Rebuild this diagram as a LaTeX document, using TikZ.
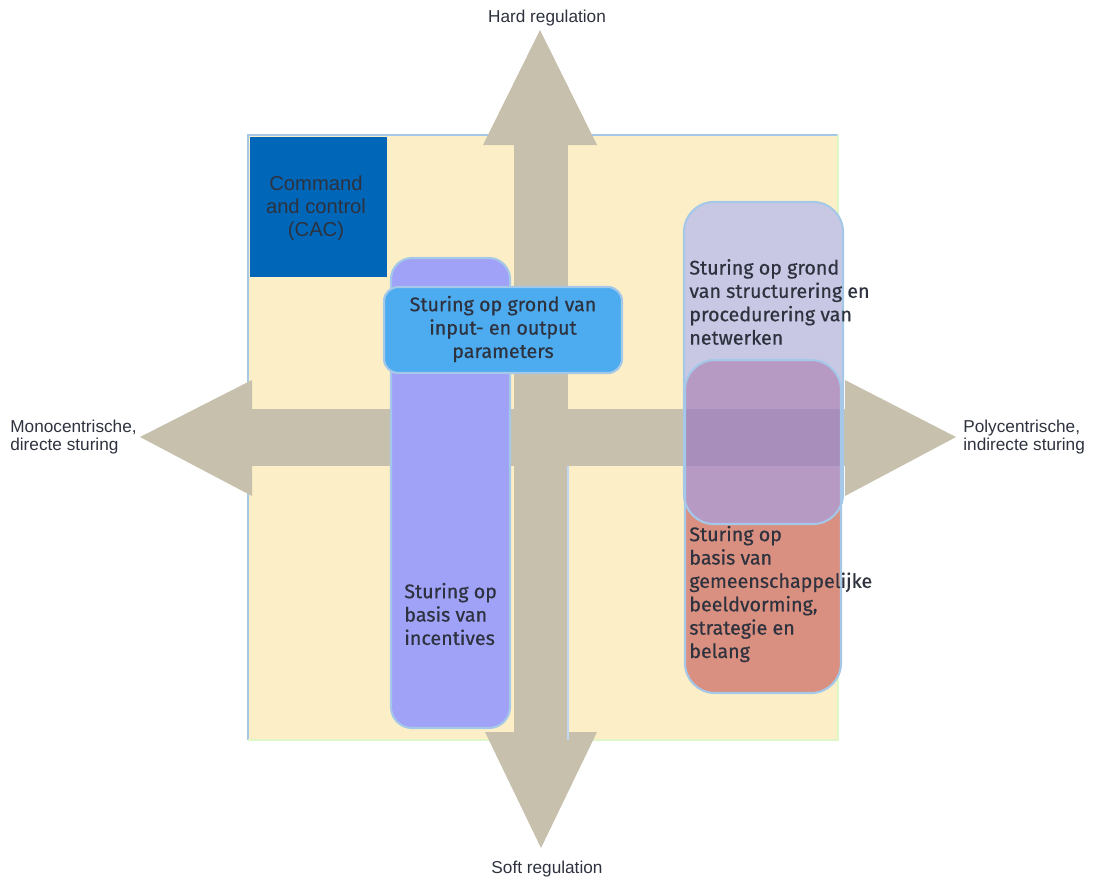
\documentclass[tikz,border=0pt]{standalone}
\usepackage{fontspec}
\setmainfont{Fira Sans}
\newfontfamily\boxfont{Fira Sans}[FakeBold=0.5]
\newfontfamily\axisfont{Liberation Sans}
\usetikzlibrary{calc,positioning}
\definecolor{quadYellow}{RGB}{252,239,199}
\definecolor{axisGray}{RGB}{199,192,173}
\definecolor{cacBlue}{RGB}{0,102,184}
\definecolor{incBlue}{RGB}{160,162,248}
\definecolor{ioBlue}{RGB}{77,172,240}
\definecolor{netLav}{RGB}{200,200,228}
\definecolor{belSalmon}{RGB}{218,144,128}
\definecolor{mixPurple}{RGB}{182,154,196}
\definecolor{mixBand}{RGB}{168,142,186}
\definecolor{edgeBlue}{RGB}{165,200,232}
\definecolor{txtDark}{RGB}{45,50,62}
\tikzset{
  axislabel/.style={font=\axisfont\fontsize{9.8}{10}\selectfont, text=txtDark, align=left, inner sep=0pt},
  boxtext/.style={font=\boxfont\fontsize{11.2}{13.3}\selectfont, text=txtDark, inner sep=0pt},
  boxedge/.style={draw=edgeBlue, line width=1.2pt}
}
\begin{document}
\begin{tikzpicture}[x=0.02cm, y=-0.02cm]
\useasboundingbox (0,0) rectangle (1094,883);

% quadrant field
\fill[quadYellow] (248,135) rectangle (838,740);
\draw[edgeBlue, line width=0.8pt] (248,740)--(248,135)--(838,135);
\draw[quadYellow!80!green!60, line width=0.8pt] (248,740)--(838,740)--(838,135);

% horizontal axis
\fill[axisGray] (250,409) rectangle (846,466);
\fill[axisGray] (252,380)--(140,437)--(252,496)--cycle;
\fill[axisGray] (845,380)--(956,437)--(845,496)--cycle;

% vertical axis
\fill[axisGray] (514,145) rectangle (568,733);
\fill[axisGray] (483,145)--(540,30)--(597,145)--cycle;
\fill[axisGray] (485,732)--(541,848)--(597,732)--cycle;
\draw[edgeBlue!70, line width=0.6pt] (568,466)--(568,740);

\node[axislabel, anchor=south] (hard) at (547,26) {Hard regulation};
\node[axislabel, anchor=north] (soft) at (547,861) {Soft regulation};
\node[axislabel, anchor=west] (mono) at (10,437) {Monocentrische,\\directe sturing};
\node[axislabel, anchor=west] (poly) at (963,437) {Polycentrische,\\indirecte sturing};

% command and control
\fill[cacBlue] (250,137) rectangle (387,277);
\node[font=\axisfont\fontsize{11.5}{13}\selectfont, text=txtDark, align=center] (cac) at (316,208) {Command\\and control\\(CAC)};

% incentives
\draw[boxedge, fill=incBlue, rounded corners=12pt] (391,258) rectangle (510,728);
\node[boxtext, anchor=west, align=left] (incent) at (404,614) {Sturing op\\basis van\\incentives};

% input / output
\draw[boxedge, fill=ioBlue, rounded corners=8pt] (384,287) rectangle (622,373);
\node[boxtext, align=center] (inout) at (503,329) {Sturing op grond van\\input- en output\\parameters};

% netwerken and beeldvorming
\fill[netLav, rounded corners=17pt] (684,202) rectangle (843,524);
\fill[belSalmon, rounded corners=17pt] (685,360) rectangle (841,693);
\begin{scope}
  \clip[rounded corners=17pt] (684,202) rectangle (843,524);
  \fill[mixPurple, rounded corners=17pt] (685,360) rectangle (841,693);
  \clip[rounded corners=17pt] (685,360) rectangle (841,693);
  \fill[mixBand] (684,409) rectangle (843,466);
\end{scope}
\draw[boxedge, rounded corners=17pt] (684,202) rectangle (843,524);
\draw[boxedge, rounded corners=17pt] (685,360) rectangle (841,693);

\node[boxtext, anchor=west, align=left] (netw) at (689,302) {Sturing op grond\\van structurering en\\procedurering van\\netwerken};
\node[boxtext, anchor=west, align=left] (belang) at (689,594) {Sturing op\\basis van\\gemeenschappelijke\\beeldvorming,\\strategie en\\belang};
\end{tikzpicture}
\end{document}
